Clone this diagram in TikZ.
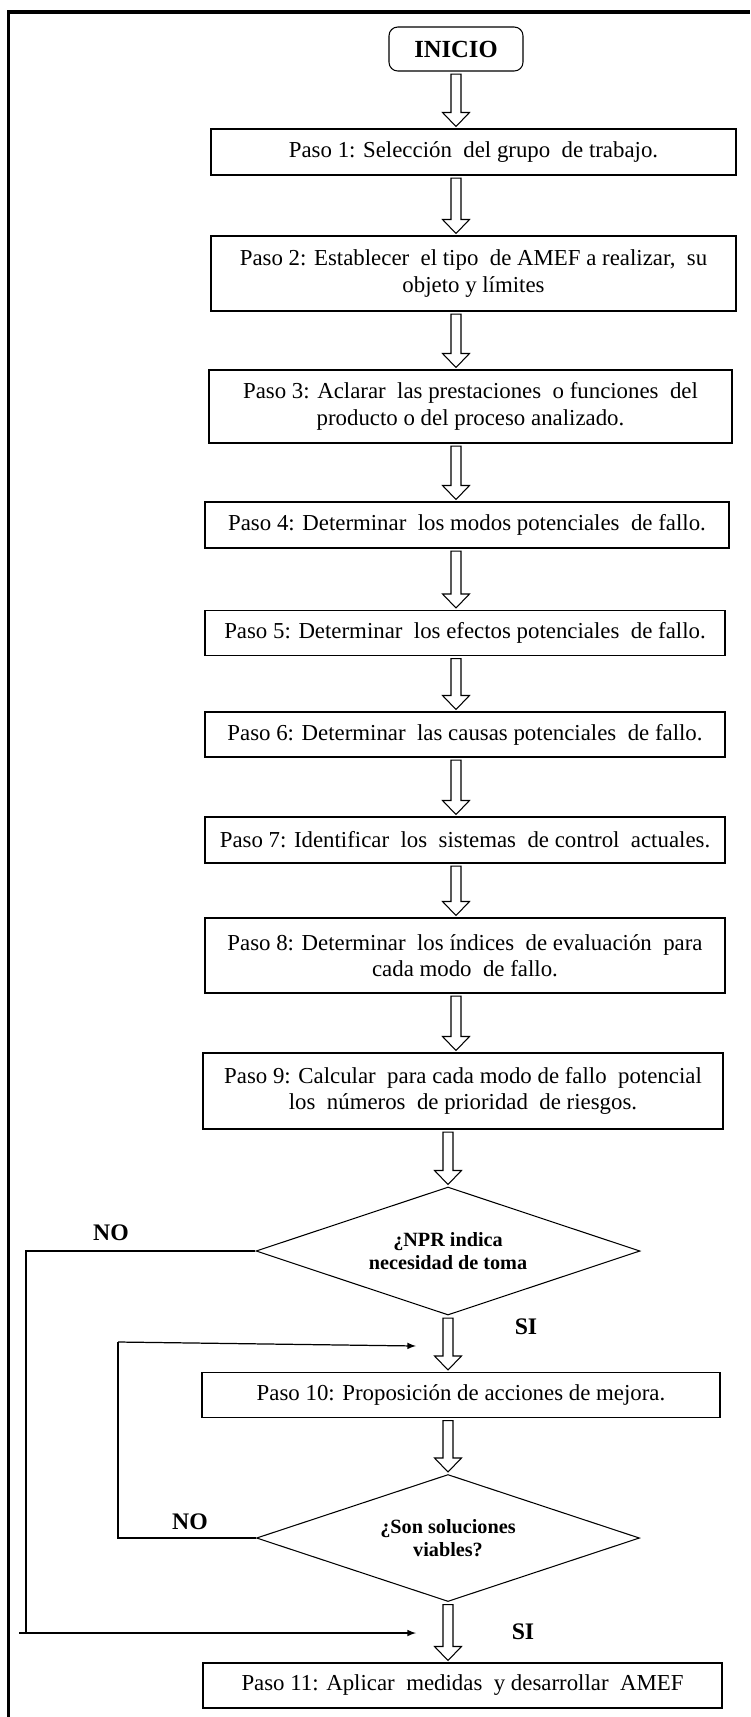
\documentclass[tikz,border=0pt]{standalone}
\usepackage{fontspec}
\setmainfont{Liberation Serif}
\usetikzlibrary{shapes.geometric,arrows,calc}

\begin{document}
\begin{tikzpicture}
		[paso/.style= {draw,line width=0.6pt,align=center,inner sep=1pt,
			font=\fontsize{13}{15}\selectfont},
		 dec/.style= {draw,diamond,aspect=3,line width=0.6pt,inner sep=0pt,align=center,
			minimum width=7.68cm,minimum height=2.56cm,
			font=\fontsize{11.5}{13.5}\selectfont\bfseries},
		 lbl/.style= {font=\fontsize{13.5}{15}\selectfont\bfseries},
		 lin/.style= {line width=0.7pt},
		 blk/.default=inicio,
		 blk/.style= {draw,line width=0.6pt,to path={
			let \p1=(\tikztotarget.south -| #1), \p2=(\tikztostart.north -| #1) in
			(\x1-0.1cm,\y1-0.05cm) -- (\x1-0.1cm,\y2+0.32cm) -- (\x1-0.27cm,\y2+0.32cm)
			-- (\x2,\y2+0.04cm) -- (\x1+0.27cm,\y2+0.32cm) -- (\x1+0.1cm,\y2+0.32cm)
			-- (\x1+0.1cm,\y1-0.05cm) -- cycle}}]

		\useasboundingbox (0,0) rectangle (15,-34.34);

		% marco
		\draw[line width=2.8pt] (0.14,-0.24) -- (15,-0.24);
		\draw[line width=1.2pt] (0.17,-0.24) -- (0.17,-34.34);

		\node[paso,rounded corners=5pt,minimum width=2.68cm,minimum height=0.88cm,
			font=\fontsize{14}{16}\selectfont\bfseries] (inicio) at (9.12,-0.98) {INICIO}
		;

		\node[paso,minimum width=10.50cm,minimum height=0.92cm] (p1) at (9.47,-3.04)
			{Paso 1: Selección~ del grupo~ de trabajo.}
			edge [blk]	(inicio)
		;

		\node[paso,minimum width=10.50cm,minimum height=1.50cm] (p2) at (9.47,-5.47)
			{Paso 2: Establecer~ el tipo~ de AMEF a realizar,~ su\\objeto y límites}
			edge [blk]	(p1)
		;

		\node[paso,minimum width=10.46cm,minimum height=1.46cm] (p3) at (9.41,-8.13)
			{Paso 3: Aclarar~ las prestaciones~ o funciones~ del\\producto o del proceso analizado.}
			edge [blk]	(p2)
		;

		\node[paso,minimum width=10.48cm,minimum height=0.92cm] (p4) at (9.34,-10.50)
			{Paso 4: Determinar~ los modos potenciales~ de fallo.}
			edge [blk]	(p3)
		;

		\node[paso,minimum width=10.40cm,minimum height=0.90cm] (p5) at (9.30,-12.66)
			{Paso 5: Determinar~ los efectos potenciales~ de fallo.}
			edge [blk]	(p4)
		;

		\node[paso,minimum width=10.40cm,minimum height=0.90cm] (p6) at (9.30,-14.69)
			{Paso 6: Determinar~ las causas potenciales~ de fallo.}
			edge [blk]	(p5)
		;

		\node[paso,minimum width=10.40cm,minimum height=0.92cm] (p7) at (9.30,-16.80)
			{Paso 7: Identificar~ los~ sistemas~ de control~ actuales.}
			edge [blk]	(p6)
		;

		\node[paso,minimum width=10.40cm,minimum height=1.50cm] (p8) at (9.30,-19.11)
			{Paso 8: Determinar~ los índices~ de evaluación~ para\\cada modo~ de fallo.}
			edge [blk]	(p7)
		;

		\node[paso,minimum width=10.40cm,minimum height=1.52cm] (p9) at (9.26,-21.82)
			{Paso 9: Calcular~ para cada modo de fallo~ potencial\\los~ números~ de prioridad~ de riesgos.}
			edge [blk]	(p8)
		;

		\node[dec] (d1) at (8.96,-25.02) {¿NPR indica\\necesidad de toma}
			edge [blk=d1]	(p9)
		;

		\node[paso,minimum width=10.36cm,minimum height=0.90cm] (p10) at (9.22,-27.90)
			{Paso 10: Proposición de acciones de mejora.}
			edge [blk=d1]	(d1)
		;

		\node[dec,minimum width=7.66cm,minimum height=2.54cm] (d2) at (8.96,-30.76)
			{¿Son soluciones\\viables?}
			edge [blk=d1]	(p10)
		;

		\node[paso,minimum width=10.38cm,minimum height=0.90cm] (p11) at (9.25,-33.71)
			{Paso 11: Aplicar~ medidas~ y desarrollar~ AMEF}
			edge [blk=d1]	(d2)
		;

		\node[lbl] (no1) at (2.22,-24.66) {NO};
		\node[lbl] (si1) at (10.52,-26.54) {SI};
		\node[lbl] (no2) at (3.80,-30.44) {NO};
		\node[lbl] (si2) at (10.46,-32.64) {SI};

		% retornos
		\coordinate (c1) at (0.52,-32.66);
		\coordinate (c2) at (0.38,-32.66);
		\coordinate (e1) at (8.32,-32.66);
		\coordinate (c3) at (2.36,-26.84);
		\coordinate (e2) at (8.32,-26.92);

		\draw[lin] (d1.west) -| (c1);
		\draw[lin,-latex] (c2) -- (e1);
		\draw[lin] (d2.west) -| (c3);
		\draw[lin,-latex] (c3) -- (e2);

	\end{tikzpicture}
\end{document}
